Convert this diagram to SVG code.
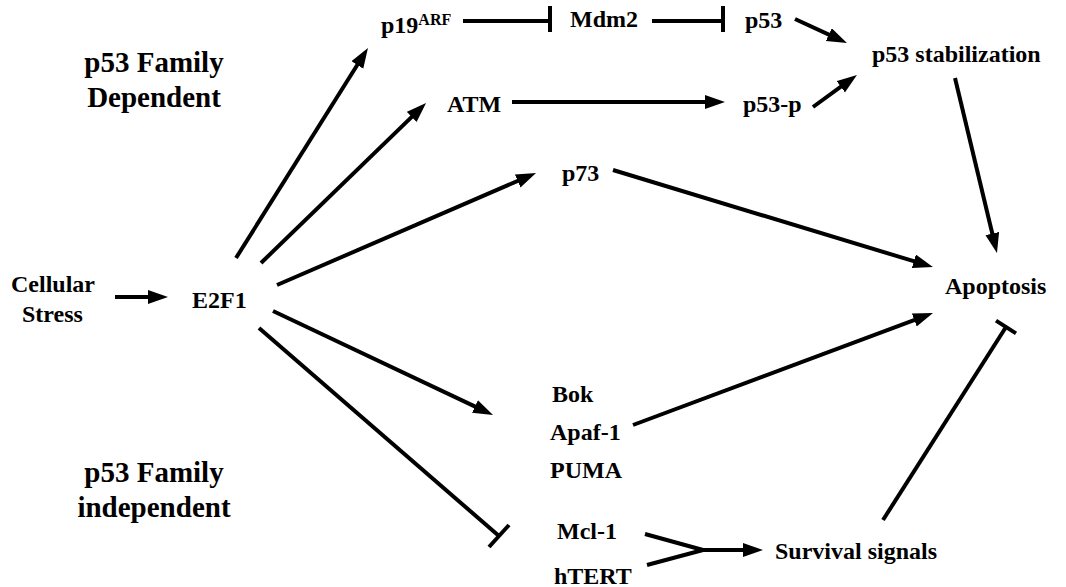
<svg xmlns="http://www.w3.org/2000/svg" width="1066" height="587" viewBox="0 0 1066 587">
<style>
text{font-family:"Liberation Serif","Times New Roman",serif;font-weight:bold;fill:#000}
.n{font-size:24px}
.t{font-size:29px;text-anchor:middle}
.sup{font-size:16px}
.c line{stroke:#000;stroke-width:4;stroke-linecap:butt;fill:none}
</style>
<defs>
<marker id="ah" markerUnits="userSpaceOnUse" markerWidth="22" markerHeight="16" refX="12" refY="7" orient="auto">
<path d="M0,0 L20,7 L0,14 z" fill="#000"/>
</marker>
</defs>
<rect width="1066" height="587" fill="#fff"/>
<g id="title-dependent"><text class="t" x="154" y="72">p53 Family</text><text class="t" x="154" y="107">Dependent</text></g>
<g id="title-independent"><text class="t" x="154" y="482">p53 Family</text><text class="t" x="154" y="517">independent</text></g>
<g id="stress"><text class="n" x="11" y="292">Cellular</text><text class="n" x="22" y="322">Stress</text></g>
<g id="e2f1"><text class="n" x="192" y="308">E2F1</text></g>
<g id="p19arf"><text class="n" x="381" y="33">p19<tspan class="sup" dy="-8">ARF</tspan></text></g>
<g id="mdm2"><text class="n" x="570" y="27">Mdm2</text></g>
<g id="p53"><text class="n" x="745" y="28">p53</text></g>
<g id="p53stab"><text class="n" x="872" y="62">p53 stabilization</text></g>
<g id="atm"><text class="n" x="447" y="112">ATM</text></g>
<g id="p53p"><text class="n" x="743" y="112">p53-p</text></g>
<g id="p73"><text class="n" x="562" y="181">p73</text></g>
<g id="apoptosis"><text class="n" x="945" y="294">Apoptosis</text></g>
<g id="bok"><text class="n" x="552" y="402">Bok</text></g>
<g id="apaf1"><text class="n" x="550" y="440">Apaf-1</text></g>
<g id="puma"><text class="n" x="550" y="478">PUMA</text></g>
<g id="mcl1"><text class="n" x="557" y="539">Mcl-1</text></g>
<g id="htert"><text class="n" x="554" y="584">hTERT</text></g>
<g id="survival"><text class="n" x="775" y="559">Survival signals</text></g>
<g id="connectors" class="c">
<line x1="115" y1="297" x2="160" y2="297" marker-end="url(#ah)"/>
<line x1="236" y1="258" x2="363.7" y2="54.8" marker-end="url(#ah)"/>
<line x1="261" y1="263" x2="420.3" y2="108.6" marker-end="url(#ah)"/>
<line x1="277" y1="285" x2="528.7" y2="176.2" marker-end="url(#ah)"/>
<line x1="273" y1="311" x2="485.8" y2="411.6" marker-end="url(#ah)"/>
<line x1="512" y1="102" x2="717" y2="102" marker-end="url(#ah)"/>
<line x1="795" y1="19" x2="839.7" y2="39.6" marker-end="url(#ah)"/>
<line x1="813" y1="107" x2="850.5" y2="79.7" marker-end="url(#ah)"/>
<line x1="955" y1="78" x2="995.1" y2="245.2" marker-end="url(#ah)"/>
<line x1="613" y1="170" x2="925.3" y2="264.7" marker-end="url(#ah)"/>
<line x1="633" y1="425" x2="925.5" y2="315.8" marker-end="url(#ah)"/>
<line x1="645" y1="534" x2="703" y2="550"/>
<line x1="647" y1="565" x2="703" y2="550"/>
<line x1="703" y1="550" x2="755" y2="550" marker-end="url(#ah)"/>
<line x1="463" y1="21" x2="550" y2="21"/>
<line x1="550" y1="6" x2="550" y2="32"/>
<line x1="652" y1="21" x2="723" y2="21"/>
<line x1="723" y1="6" x2="723" y2="32"/>
<line x1="259" y1="328" x2="499" y2="536"/>
<line x1="489" y1="547" x2="509" y2="525"/>
<line x1="883" y1="520" x2="1006" y2="327"/>
<line x1="996" y1="320.6" x2="1016" y2="333.4"/>
</g>
</svg>
